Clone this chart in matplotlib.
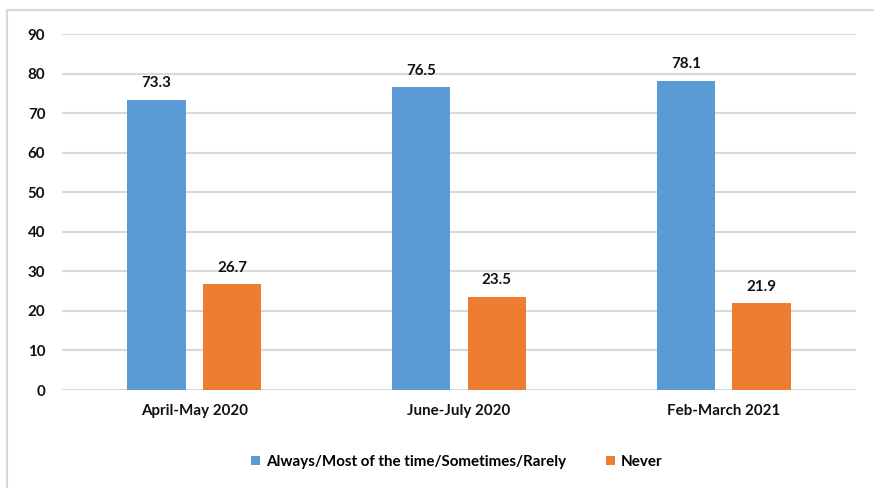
import matplotlib
matplotlib.use("Agg")
import matplotlib.pyplot as plt
from matplotlib.patches import Rectangle
import numpy as np

# survey waves and shares (%)
periods = ["April-May 2020", "June-July 2020", "Feb-March 2021"]
often = [73.3, 76.5, 78.1]
never = [26.7, 23.5, 21.9]
series_names = ["Always/Most of the time/Sometimes/Rarely", "Never"]
y_ticks = [0, 10, 20, 30, 40, 50, 60, 70, 80, 90]

BLUE = "#5B9BD5"
ORANGE = "#ED7D31"
GRID = "#D9D9D9"
FS = 10.9

plt.rcParams["font.family"] = ["Lato", "DejaVu Sans"]
plt.rcParams["font.weight"] = "bold"

fig = plt.figure(figsize=(8.74, 4.88), dpi=100)
ax = fig.add_axes([62 / 874, 1 - 390 / 488, 794 / 874, 356 / 488])

# chart border
fig.patches.append(Rectangle((7 / 874, -0.1), 1.1, 1 - 10 / 488 + 0.1,
                             transform=fig.transFigure, fill=False,
                             edgecolor=GRID, linewidth=1.5))

x = np.arange(len(periods))
w = 0.22
off = 0.143
b1 = ax.bar(x - off, often, w, color=BLUE, label=series_names[0], zorder=3)
b2 = ax.bar(x + off, never, w, color=ORANGE, label=series_names[1], zorder=3)

for bars in (b1, b2):
    for bar in bars:
        h = bar.get_height()
        ax.annotate(f"{h:.1f}", xy=(bar.get_x() + bar.get_width() / 2, h),
                    xytext=(0, 7), textcoords="offset points",
                    ha="center", va="bottom", fontsize=FS,
                    fontweight="bold", color="#111111")

ax.set_xlim(-0.5, 2.5)
ax.set_ylim(0, 90)
ax.set_yticks(y_ticks)
ax.set_xticks(x)
ax.set_xticklabels(periods)
ax.yaxis.grid(True, color=GRID, linewidth=1.5, zorder=0)
ax.set_axisbelow(True)
for s in ax.spines.values():
    s.set_visible(False)
ax.tick_params(axis="both", length=0, labelsize=FS, colors="#111111")
ax.tick_params(axis="y", pad=12)
ax.tick_params(axis="x", pad=10)
for lab in ax.get_xticklabels() + ax.get_yticklabels():
    lab.set_fontweight("bold")

ax.legend(loc="center", bbox_to_anchor=(457 / 874, 1 - 462 / 488),
          bbox_transform=fig.transFigure, ncol=2, frameon=False,
          fontsize=FS, handlelength=0.6, handleheight=0.6,
          handletextpad=0.4, columnspacing=2.6)

fig.savefig("out.png", dpi=100)
